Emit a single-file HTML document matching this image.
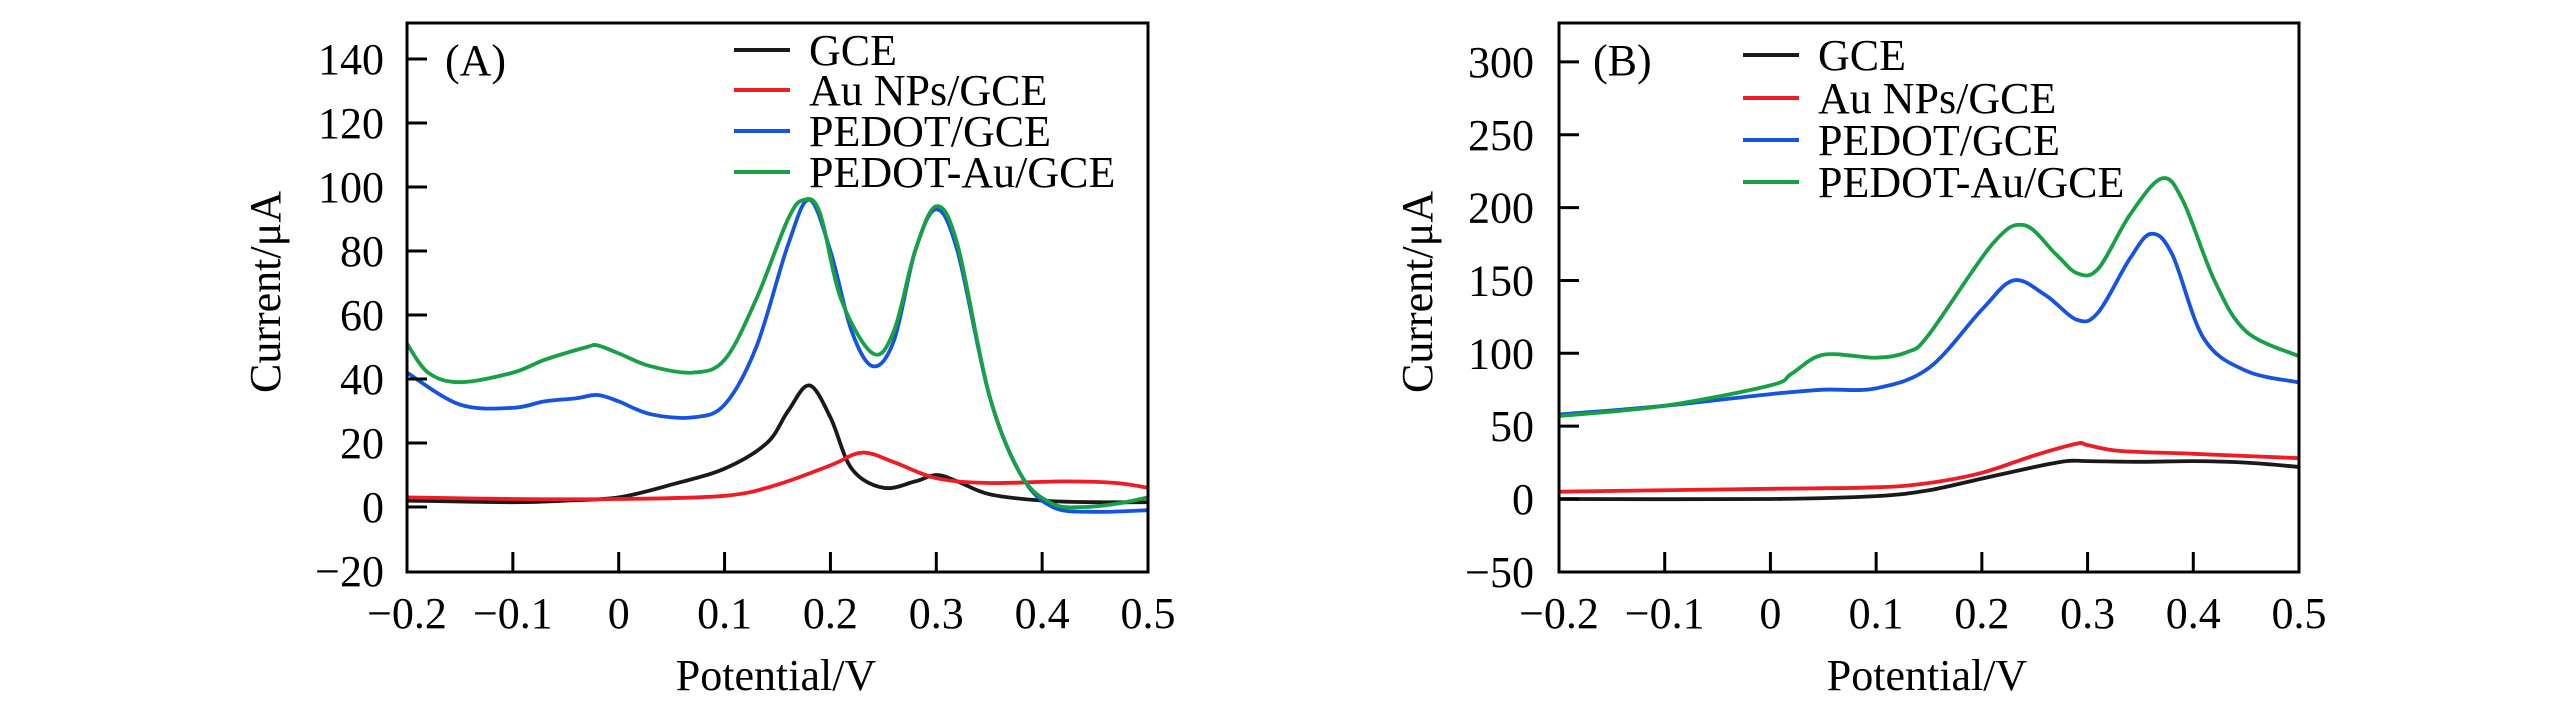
<!DOCTYPE html>
<html><head><meta charset="utf-8">
<style>
html,body{margin:0;padding:0;background:#fff;}
svg{display:block;font-family:"Liberation Serif",serif;}
</style></head>
<body>
<svg id="chart" width="2567" height="709" viewBox="0 0 2567 709" xmlns="http://www.w3.org/2000/svg"></svg>
<script>
const xTicks = [-0.2,-0.1,0,0.1,0.2,0.3,0.4,0.5];
const xTickLabels = ["\u22120.2","\u22120.1","0","0.1","0.2","0.3","0.4","0.5"];
const seriesNames = ["GCE","Au NPs/GCE","PEDOT/GCE","PEDOT-Au/GCE"];
const seriesColors = ["#1a1a1a","#ee1c24","#1553e0","#18a045"];

// Panel A data
const aYTicks = [-20,0,20,40,60,80,100,120,140];
const aYTickLabels = ["\u221220","0","20","40","60","80","100","120","140"];
const aGCE_x = [-0.2,-0.1,-0.05,0,0.05,0.1,0.14,0.16,0.18,0.2,0.22,0.25,0.28,0.3,0.32,0.35,0.4,0.45,0.5];
const aGCE_y = [2,1.5,2,3,7,12,20,30,38,28,12,6,8,10,8,4,2,1.5,1.5];
const aAu_x = [-0.2,-0.1,0,0.1,0.15,0.2,0.23,0.26,0.3,0.35,0.42,0.47,0.5];
const aAu_y = [3,2.5,2.5,3.5,7,13,17,14,9,7.5,8,7.5,6];
const aPE_x = [-0.2,-0.15,-0.1,-0.07,-0.04,-0.02,0,0.03,0.07,0.1,0.13,0.16,0.18,0.2,0.22,0.24,0.26,0.28,0.3,0.32,0.35,0.38,0.41,0.45,0.5];
const aPE_y = [42,32,31,33,34,35,33,29,28,32,50,82,96,80,55,44,52,80,93,80,35,10,0,-1.5,-1];
const aPA_x = [-0.2,-0.18,-0.15,-0.1,-0.07,-0.03,-0.02,0,0.03,0.07,0.1,0.13,0.16,0.175,0.19,0.21,0.24,0.26,0.28,0.3,0.32,0.35,0.38,0.41,0.44,0.47,0.5];
const aPA_y = [51,42,39,42,46,50,50.5,48,44,42,46,65,90,96,92,65,48,55,80,94,82,35,10,1,0,1,3];

// Panel B data
const bYTicks = [-50,0,50,100,150,200,250,300];
const bYTickLabels = ["\u221250","0","50","100","150","200","250","300"];
const bGCE_x = [-0.2,0,0.1,0.15,0.2,0.25,0.28,0.3,0.35,0.4,0.45,0.5];
const bGCE_y = [0,0,2,6,14,22,26,26,25.5,26,25,22];
const bAu_x = [-0.2,0,0.1,0.15,0.2,0.25,0.29,0.3,0.33,0.4,0.5];
const bAu_y = [5,7,8,11,18,30,38,37,33,31,28];
const bPE_x = [-0.2,-0.1,0,0.05,0.1,0.15,0.2,0.23,0.26,0.29,0.31,0.34,0.36,0.38,0.41,0.45,0.5];
const bPE_y = [58,64,72,75,76,90,130,150,140,123,128,165,182,168,110,88,80];
const bPA_x = [-0.2,-0.1,0,0.02,0.05,0.1,0.13,0.15,0.21,0.24,0.27,0.29,0.31,0.34,0.37,0.39,0.42,0.45,0.5];
const bPA_y = [57,64,78,86,99,97,101,113,175,188,168,155,158,195,220,205,150,115,98];

const NS = "http://www.w3.org/2000/svg";
const svg = document.getElementById("chart");
function mk(tag, attrs, parent){
  const e = document.createElementNS(NS, tag);
  for (const k in attrs) e.setAttribute(k, attrs[k]);
  (parent||svg).appendChild(e);
  return e;
}
function smoothPath(pts){
  let d = "M"+pts[0][0].toFixed(1)+","+pts[0][1].toFixed(1);
  for (let i=0;i<pts.length-1;i++){
    const p0=pts[Math.max(0,i-1)], p1=pts[i], p2=pts[i+1], p3=pts[Math.min(pts.length-1,i+2)];
    const c1x=p1[0]+(p2[0]-p0[0])/6, c1y=p1[1]+(p2[1]-p0[1])/6;
    const c2x=p2[0]-(p3[0]-p1[0])/6, c2y=p2[1]-(p3[1]-p1[1])/6;
    d += " C"+c1x.toFixed(1)+","+c1y.toFixed(1)+" "+c2x.toFixed(1)+","+c2y.toFixed(1)+" "+p2[0].toFixed(1)+","+p2[1].toFixed(1);
  }
  return d;
}

function panel(cfg){
  const g = mk("g", {});
  
  
  const xs = v => cfg.left + (v - (-0.2)) / 0.7 * (cfg.right - cfg.left);
  const ys = v => cfg.zeroY - v * cfg.pxPerUnit;
  const clip = mk("clipPath", {id: cfg.name+"-clip"}, g);
  mk("rect", {x:cfg.left, y:cfg.top, width:cfg.right-cfg.left, height:cfg.bottom-cfg.top}, clip);
  cfg.series.forEach((s,i)=>{
    const pts = s[0].map((x,j)=>[xs(x), ys(s[1][j])]);
    const p = mk("path", {d:smoothPath(pts), fill:"none", stroke:seriesColors[i], "stroke-width":3.8, "stroke-linejoin":"round", "clip-path":"url(#"+cfg.name+"-clip)"}, g);
    
    
  });
  const fr = mk("rect", {x:cfg.left, y:cfg.top, width:cfg.right-cfg.left, height:cfg.bottom-cfg.top, fill:"none", stroke:"#000", "stroke-width":3}, g);
  
  
  xTicks.forEach((v,i)=>{
    const x = xs(v);
    if (i>0 && i<xTicks.length-1) mk("line", {x1:x, x2:x, y1:cfg.bottom, y2:cfg.bottom-20, stroke:"#000", "stroke-width":3}, g);
    const t = mk("text", {x:x, y:628, "font-size":44, "text-anchor":"middle"}, g);
    t.textContent = xTickLabels[i];
    
    
  });
  cfg.yTicks.forEach((v,i)=>{
    const y = ys(v);
    if (y > cfg.top+2 && y < cfg.bottom-2) mk("line", {x1:cfg.left, x2:cfg.left+20, y1:y, y2:y, stroke:"#000", "stroke-width":3}, g);
    const t = mk("text", {x:cfg.labelRight, y:y+15, "font-size":44, "text-anchor":"end"}, g);
    t.textContent = cfg.yTickLabels[i];
    
    
  });
  const xt = mk("text", {x:cfg.xTitleX, y:690, "font-size":44, "text-anchor":"middle"}, g);
  xt.textContent = "Potential/V";
  
  
  const yt = mk("text", {x:0, y:0, "font-size":44, "text-anchor":"middle", transform:"translate("+(cfg.yTitleX)+",292) rotate(-90)"}, g);
  yt.textContent = "Current/\u03bcA";
  
  
  const pl = mk("text", {x:cfg.tagX, y:75, "font-size":44}, g);
  pl.textContent = cfg.tag;
  
  
  cfg.legendRows.forEach((ry,i)=>{
    const lg = mk("g", {}, g);
    
    
    mk("line", {x1:cfg.legendX, x2:cfg.legendX+56, y1:ry, y2:ry, stroke:seriesColors[i], "stroke-width":4}, lg);
    const t = mk("text", {x:cfg.legendX+75, y:ry+15, "font-size":44}, lg);
    t.textContent = seriesNames[i];
  });
}

panel({name:"panel-a", left:407, right:1148, top:23, bottom:572, zeroY:507, pxPerUnit:3.2,
  yTicks:aYTicks, yTickLabels:aYTickLabels, labelRight:384, xTitleX:776, yTitleX:280,
  tag:"(A)", tagX:445, legendX:734, legendRows:[50,90,131,172],
  series:[[aGCE_x,aGCE_y],[aAu_x,aAu_y],[aPE_x,aPE_y],[aPA_x,aPA_y]]});
panel({name:"panel-b", left:1559, right:2299, top:23, bottom:572, zeroY:499, pxPerUnit:1.457,
  yTicks:bYTicks, yTickLabels:bYTickLabels, labelRight:1534, xTitleX:1927, yTitleX:1432,
  tag:"(B)", tagX:1593, legendX:1743, legendRows:[55,98,140,182],
  series:[[bGCE_x,bGCE_y],[bAu_x,bAu_y],[bPE_x,bPE_y],[bPA_x,bPA_y]]});
</script>
</body></html>
